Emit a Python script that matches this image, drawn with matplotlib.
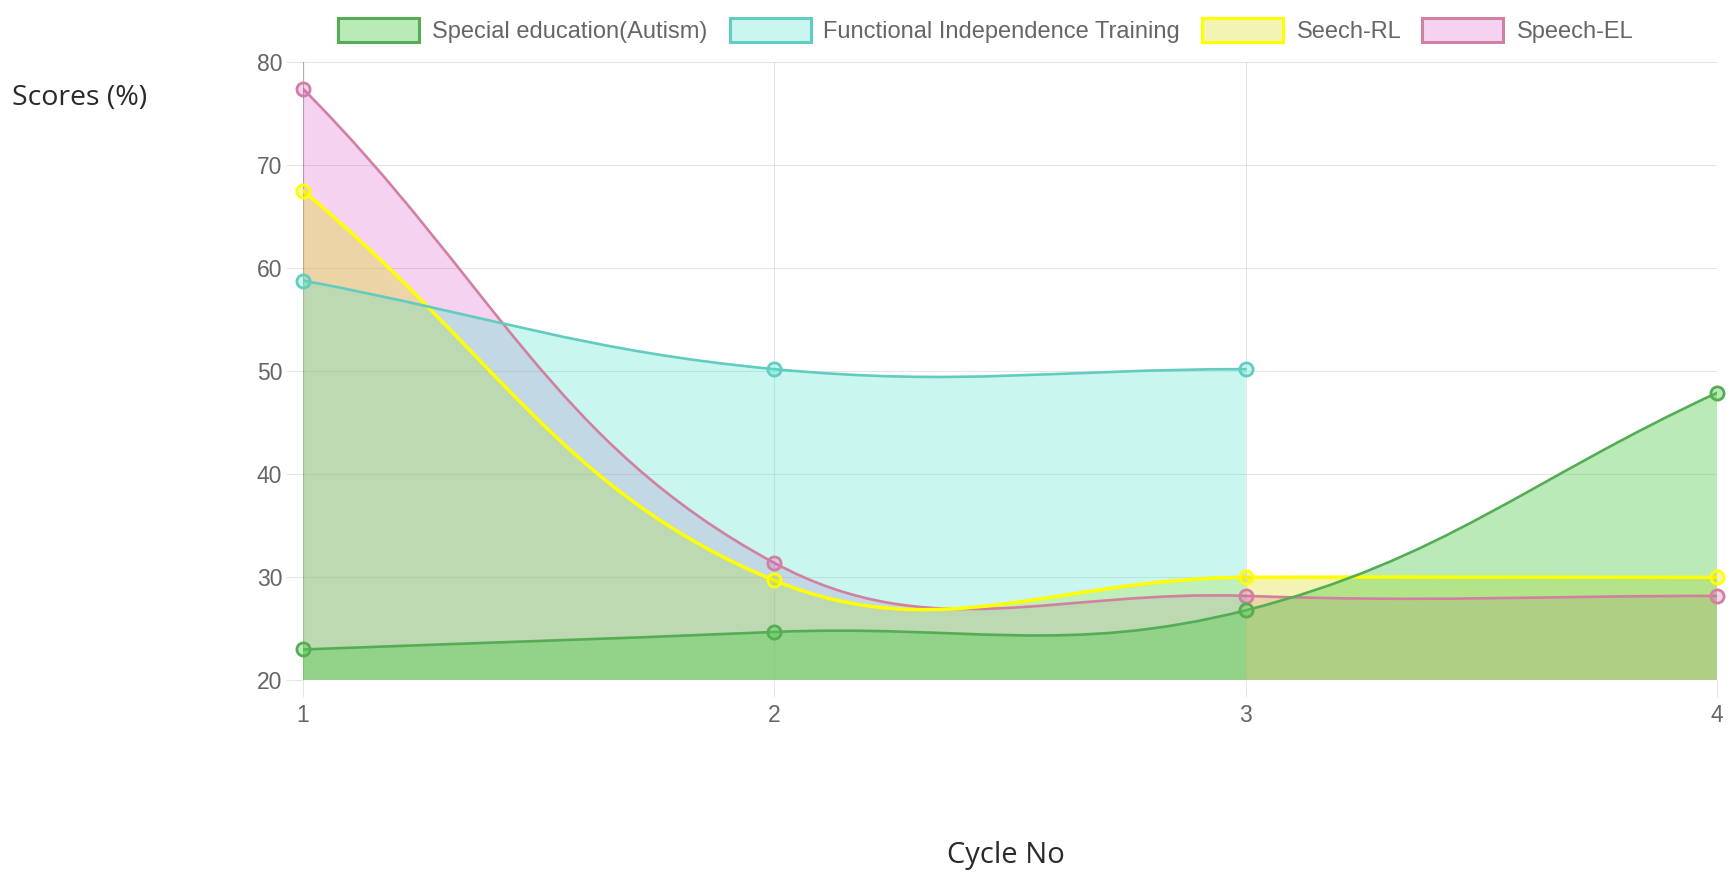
import numpy as np
import matplotlib
matplotlib.use("Agg")
import matplotlib.pyplot as plt
from matplotlib.path import Path
from matplotlib.patches import PathPatch, Rectangle

# ---------------- data ----------------
cycles = [1, 2, 3, 4]
special_ed = [23.0, 24.7, 26.8, 47.9]
fit = [58.8, 50.2, 50.2, None]
speech_rl = [67.5, 29.7, 30.0, 30.0]
speech_el = [77.4, 31.4, 28.2, 28.2]

series_labels = ["Special education(Autism)", "Functional Independence Training",
                 "Seech-RL", "Speech-EL"]
y_ticks = [20, 30, 40, 50, 60, 70, 80]
x_title = "Cycle No"
y_title = "Scores (%)"

# ---------------- styles ----------------
line_colors = [(0.33, 0.68, 0.33), (0.38, 0.80, 0.75), (1.0, 1.0, 0.0), (0.82, 0.50, 0.63)]
fill_colors = [(0.33, 0.80, 0.31, 0.40), (0.30, 0.90, 0.80, 0.30),
               (0.86, 0.86, 0.0, 0.30), (0.86, 0.30, 0.76, 0.25)]
line_widths = [1.9, 1.9, 2.5, 1.9]
all_series = [special_ed, fit, speech_rl, speech_el]

W, H = 1729, 875
fig = plt.figure(figsize=(W / 100, H / 100), dpi=100)
ax_left, ax_right, ax_top, ax_bot = 303, 1717, 62, 680.4
ax = fig.add_axes([ax_left / W, 1 - ax_bot / H, (ax_right - ax_left) / W, (ax_bot - ax_top) / H])
ax.set_xlim(1, 4)
ax.set_ylim(20, 80)

p0 = ax.transData.transform([[1, 20], [4, 80]])
sx = (p0[1, 0] - p0[0, 0]) / 3.0
sy = (p0[1, 1] - p0[0, 1]) / 60.0


def spline_path(xs, ys, t=0.4, close_to=None):
    pts = [(x, y) for x, y in zip(xs, ys) if y is not None]
    n = len(pts)
    cps = []
    for i in range(n):
        px, py = pts[i - 1] if i > 0 else pts[i]
        cx, cy = pts[i]
        nx, ny = pts[i + 1] if i < n - 1 else pts[i]
        d01 = np.hypot((cx - px) * sx, (cy - py) * sy)
        d12 = np.hypot((nx - cx) * sx, (ny - cy) * sy)
        tot = d01 + d12
        s01 = d01 / tot if tot else 0
        s12 = d12 / tot if tot else 0
        fa, fb = t * s01, t * s12
        pc = [cx - fa * (nx - px), cy - fa * (ny - py)]
        nc = [cx + fb * (nx - px), cy + fb * (ny - py)]
        for c in (pc, nc):
            c[0] = min(max(c[0], 1), 4)
            c[1] = min(max(c[1], 20), 80)
        cps.append((pc, nc))
    verts = [pts[0]]
    codes = [Path.MOVETO]
    for i in range(n - 1):
        verts += [tuple(cps[i][1]), tuple(cps[i + 1][0]), pts[i + 1]]
        codes += [Path.CURVE4] * 3
    if close_to is not None:
        verts += [(pts[-1][0], close_to), (pts[0][0], close_to), pts[0]]
        codes += [Path.LINETO, Path.LINETO, Path.CLOSEPOLY]
    return Path(verts, codes), pts


# grid
grid_c = (0, 0, 0, 0.1)
for yv in y_ticks:
    ax.axhline(yv, color=grid_c, lw=0.8, zorder=0)
for xv in cycles:
    ax.axvline(xv, color=grid_c, lw=0.8, zorder=0)
for s in ax.spines.values():
    s.set_visible(False)
ax.axvline(1, color=(0, 0, 0, 0.22), lw=0.9, zorder=0.5)
ax.axhline(20, color=(0, 0, 0, 0.22), lw=0.9, zorder=0.5)

# fills (drawn last dataset first)
for idx in reversed(range(4)):
    path, _ = spline_path(cycles, all_series[idx], close_to=20)
    ax.add_patch(PathPatch(path, facecolor=fill_colors[idx], edgecolor="none", zorder=1))

# lines + points
for idx in reversed(range(4)):
    path, pts = spline_path(cycles, all_series[idx])
    z = 2 + (3 - idx)
    ax.add_patch(PathPatch(path, facecolor="none", edgecolor=line_colors[idx],
                           lw=line_widths[idx], zorder=z, capstyle="round", joinstyle="round"))
    xs = [p[0] for p in pts]
    ys = [p[1] for p in pts]
    ax.plot(xs, ys, linestyle="none", marker="o", markersize=9.5,
            markerfacecolor=fill_colors[idx], markeredgecolor=line_colors[idx],
            markeredgewidth=2.0, zorder=z + 0.5, clip_on=False)

ax.set_xticks(cycles)
ax.set_xticklabels([str(c) for c in cycles])
ax.set_yticks(y_ticks)
ax.set_yticklabels([str(v) for v in y_ticks])
ax.tick_params(axis="both", length=12, width=0.8, color=grid_c, labelcolor="#666666",
               labelsize=16.5)
ax.tick_params(axis="y", pad=3)
ax.tick_params(axis="x", pad=5)
for lab in ax.get_xticklabels() + ax.get_yticklabels():
    lab.set_fontfamily("Liberation Sans")

# legend (manual)
box_x = [338, 730, 1202, 1422]
text_x = [432, 823, 1297, 1517]
ly = 30
bw, bh = 81, 24
for i in range(4):
    r = Rectangle(((box_x[i]) / W, 1 - (ly + bh / 2) / H), bw / W, bh / H,
                  transform=fig.transFigure, facecolor=fill_colors[i],
                  edgecolor=line_colors[i], lw=2.2)
    fig.patches.append(r)
    fig.text(text_x[i] / W, 1 - (ly + 8) / H, series_labels[i], ha="left", va="baseline",
             fontsize=17.0, color="#666666", family="Liberation Sans")

fig.text(12 / W, 1 - 98 / H, y_title, ha="left", va="center", fontsize=20.5,
         color="#2a2a2a", family="Open Sans")
fig.text(1006 / W, 1 - 855 / H, x_title, ha="center", va="center", fontsize=21,
         color="#2a2a2a", family="Open Sans")

fig.savefig("out.png", dpi=100)
